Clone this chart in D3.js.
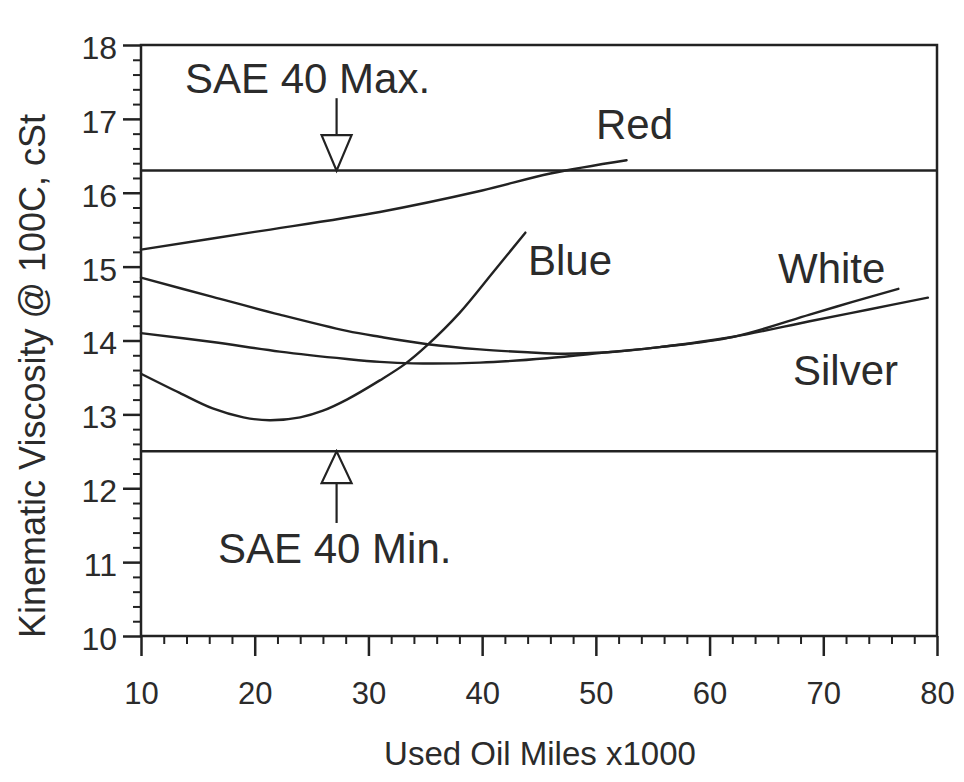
<!DOCTYPE html>
<html>
<head>
<meta charset="utf-8">
<script src="https://cdn.jsdelivr.net/npm/d3@7"></script>
<style>
  html, body { margin: 0; padding: 0; background: #fff; }
  svg { display: block; }
  text { font-family: "Liberation Sans", Arial, Helvetica, sans-serif; fill: #2b2b2b; }
</style>
</head>
<body>
<svg id="chart" width="964" height="782"></svg>
<script>
// ---- data ----
const xTicks = [10, 20, 30, 40, 50, 60, 70, 80];
const yTicks = [10, 11, 12, 13, 14, 15, 16, 17, 18];

const redX    = [10, 20, 31, 40, 46, 52.7];
const redY    = [15.23, 15.47, 15.74, 16.03, 16.26, 16.44];

const blueX   = [10, 13.4, 16.3, 19, 21.3, 24, 26, 28.1, 31, 33.2, 35.2, 38, 41, 43.8];
const blueY   = [13.55, 13.29, 13.08, 12.96, 12.92, 12.96, 13.05, 13.2, 13.46, 13.68, 13.94, 14.37, 14.93, 15.46];

const whiteX  = [10, 16.3, 22.2, 28.1, 31, 35.2, 39.8, 44, 47.1, 51, 55.6, 62.1, 68.8, 72.5, 76.6];
const whiteY  = [14.85, 14.59, 14.35, 14.13, 14.05, 13.95, 13.88, 13.84, 13.82, 13.84, 13.91, 14.05, 14.35, 14.52, 14.70];

const silverX = [10, 16.3, 22.2, 28.1, 31, 33.9, 39.8, 45.7, 51, 55.6, 62.1, 68.8, 74, 79.2];
const silverY = [14.10, 13.98, 13.85, 13.75, 13.71, 13.69, 13.70, 13.76, 13.84, 13.91, 14.05, 14.26, 14.42, 14.58];

const limitNames  = ["SAE 40 Max.", "SAE 40 Min."];
const limitValues = [16.3, 12.5];

const seriesNames = ["Red", "Blue", "White", "Silver"];

// ---- layout ----
const svg = d3.select("#chart");
const x = d3.scaleLinear().domain([10, 80]).range([141, 937]);
const y = d3.scaleLinear().domain([10, 18]).range([636, 45]);
const ink = "#222";

// minor ticks
const xMinor = d3.range(10, 80.001, 2).filter(v => v % 10 !== 0);
const yMinor = d3.range(10, 18.001, 0.2).map(v => +v.toFixed(1)).filter(v => Math.abs(v - Math.round(v)) > 1e-6);

svg.append("g").attr("transform", `translate(0,${y(10)})`)
  .call(d3.axisBottom(x).tickValues(xMinor).tickSize(8).tickFormat(""))
  .call(g => g.select(".domain").remove())
  .call(g => g.selectAll("line").attr("stroke", ink).attr("stroke-width", 2));

svg.append("g").attr("transform", `translate(${x(10)},0)`)
  .call(d3.axisLeft(y).tickValues(yMinor).tickSize(8).tickFormat(""))
  .call(g => g.select(".domain").remove())
  .call(g => g.selectAll("line").attr("stroke", ink).attr("stroke-width", 2));

// major axes
const xAxis = svg.append("g").attr("transform", `translate(0,${y(10)})`)
  .call(d3.axisBottom(x).tickValues(xTicks).tickSize(20).tickPadding(26).tickFormat(d3.format("d")));
xAxis.select(".domain").remove();
xAxis.selectAll("line").attr("stroke", ink).attr("stroke-width", 2.5);
xAxis.selectAll("text").attr("font-size", 31).attr("fill", "#2b2b2b")
  .style("font-family", "'Liberation Sans', Arial, sans-serif");

const yAxis = svg.append("g").attr("transform", `translate(${x(10)},0)`)
  .call(d3.axisLeft(y).tickValues(yTicks).tickSize(18).tickPadding(6).tickFormat(d3.format("d")));
yAxis.select(".domain").remove();
yAxis.selectAll("line").attr("stroke", ink).attr("stroke-width", 2.5);
yAxis.selectAll("text").attr("font-size", 32).attr("fill", "#2b2b2b").attr("dy", "0.42em")
  .style("font-family", "'Liberation Sans', Arial, sans-serif");

// frame
svg.append("rect")
  .attr("x", x(10)).attr("y", y(18))
  .attr("width", x(80) - x(10)).attr("height", y(10) - y(18))
  .attr("fill", "none").attr("stroke", ink).attr("stroke-width", 2.5);

// limit lines
svg.selectAll(".limit").data(limitValues).join("line")
  .attr("class", "limit")
  .attr("x1", x(10)).attr("x2", x(80))
  .attr("y1", d => y(d)).attr("y2", d => y(d))
  .attr("stroke", ink).attr("stroke-width", 2.5);

// series curves
const line = d3.line().x(d => x(d[0])).y(d => y(d[1])).curve(d3.curveCatmullRom.alpha(0.5));
const seriesData = [
  d3.zip(redX, redY),
  d3.zip(blueX, blueY),
  d3.zip(whiteX, whiteY),
  d3.zip(silverX, silverY)
];
svg.selectAll(".series").data(seriesData).join("path")
  .attr("class", "series")
  .attr("d", line)
  .attr("fill", "none").attr("stroke", ink).attr("stroke-width", 2.4)
  .attr("stroke-linecap", "round");

// series labels
const labelPos = [[596, 139], [528, 275], [778, 283], [793, 385]];
svg.selectAll(".slabel").data(seriesNames).join("text")
  .attr("class", "slabel")
  .attr("x", (d, i) => labelPos[i][0]).attr("y", (d, i) => labelPos[i][1])
  .attr("font-size", 42).text(d => d);

// limit annotations with open arrows
const arrowX = 27.2;
const ax = x(arrowX);
const maxTip = y(limitValues[0]), maxBase = y(16.78), maxTail = y(17.28);
svg.append("line").attr("x1", ax).attr("x2", ax).attr("y1", maxTail).attr("y2", maxBase)
  .attr("stroke", ink).attr("stroke-width", 2.2);
svg.append("path")
  .attr("d", `M${ax - 15},${maxBase} L${ax + 15},${maxBase} L${ax},${maxTip} Z`)
  .attr("fill", "#fff").attr("stroke", ink).attr("stroke-width", 2.2);

const minTip = y(limitValues[1]), minBase = y(12.07), minTail = y(11.53);
svg.append("line").attr("x1", ax).attr("x2", ax).attr("y1", minTail).attr("y2", minBase)
  .attr("stroke", ink).attr("stroke-width", 2.2);
svg.append("path")
  .attr("d", `M${ax - 15},${minBase} L${ax + 15},${minBase} L${ax},${minTip} Z`)
  .attr("fill", "#fff").attr("stroke", ink).attr("stroke-width", 2.2);

svg.append("text").attr("x", 185).attr("y", 93).attr("font-size", 42).text(limitNames[0]);
svg.append("text").attr("x", 218).attr("y", 563).attr("font-size", 42).text(limitNames[1]);

// axis titles
svg.append("text")
  .attr("x", 540).attr("y", 765).attr("text-anchor", "middle")
  .attr("font-size", 33).text("Used Oil Miles x1000");

svg.append("text")
  .attr("transform", `translate(45,376) rotate(-90)`)
  .attr("text-anchor", "middle")
  .attr("font-size", 36).text("Kinematic Viscosity @ 100C, cSt");
</script>
</body>
</html>
